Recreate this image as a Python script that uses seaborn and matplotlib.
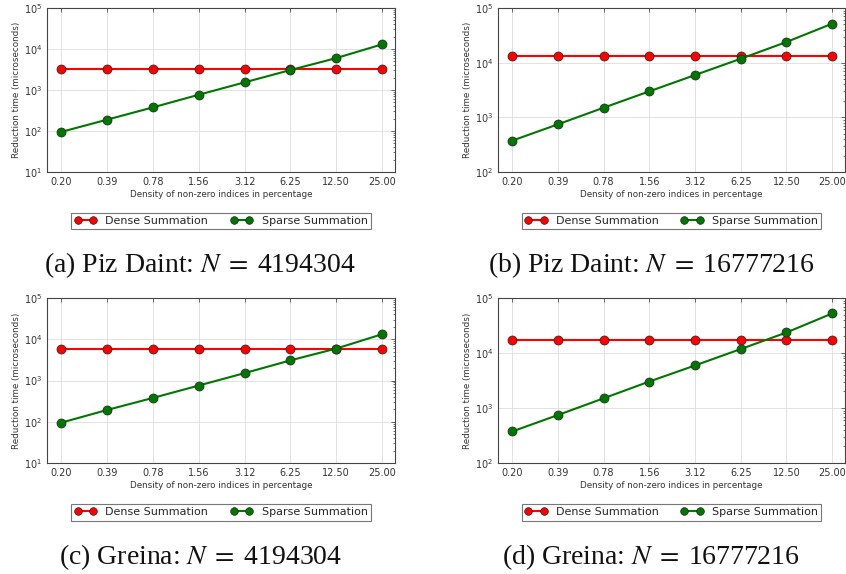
import numpy as np
import pandas as pd
import matplotlib
matplotlib.use("Agg")
import matplotlib.pyplot as plt
import seaborn as sns
from matplotlib.ticker import LogLocator, NullFormatter

# x categories (density of non-zero indices, %)
density_labels = ["0.20", "0.39", "0.78", "1.56", "3.12", "6.25", "12.50", "25.00"]

# (a) Piz Daint, N = 4194304
dense_a = [3300, 3300, 3300, 3300, 3300, 3300, 3300, 3300]
sparse_a = [95, 189, 377, 766, 1537, 3070, 6010, 13000]
# (b) Piz Daint, N = 16777216
dense_b = [13400, 13400, 13400, 13400, 13400, 13400, 13400, 13400]
sparse_b = [374, 745, 1500, 2990, 5940, 11800, 23900, 51700]
# (c) Greina, N = 4194304
dense_c = [5850, 5850, 5850, 5850, 5850, 5850, 5850, 5850]
sparse_c = [95, 193, 378, 755, 1510, 3080, 5950, 13250]
# (d) Greina, N = 16777216
dense_d = [17500, 17500, 17500, 17500, 17500, 17500, 17500, 17500]
sparse_d = [374, 745, 1500, 3030, 5940, 11800, 23600, 52400]

captions = [
    r"(a) Piz Daint: $N\;=\;$4194304",
    r"(b) Piz Daint: $N\;=\;$16777216",
    r"(c) Greina: $N\;=\;$4194304",
    r"(d) Greina: $N\;=\;$16777216",
]
ylims = [(10, 1e5), (100, 1e5), (10, 1e5), (100, 1e5)]

sns.set_style("white")
plt.rcParams["font.family"] = ["DejaVu Sans"]
plt.rcParams["mathtext.fontset"] = "stix"

fig = plt.figure(figsize=(8.46, 5.74), dpi=100)

W, H = 846, 574
boxes = [(47, 8, 395, 172), (498, 8, 845, 172),
         (47, 298, 395, 463), (498, 298, 845, 463)]
panels = [(dense_a, sparse_a), (dense_b, sparse_b),
          (dense_c, sparse_c), (dense_d, sparse_d)]
palette = {"Dense Summation": "#ff0000", "Sparse Summation": "#007700"}

for (x0, y0, x1, y1), (dense, sparse), cap, ylim in zip(boxes, panels, captions, ylims):
    ax = fig.add_axes([x0 / W, 1 - y1 / H, (x1 - x0) / W, (y1 - y0) / H])
    idx = np.arange(len(density_labels))
    df = pd.DataFrame({
        "pos": np.concatenate([idx, idx]),
        "time": dense + sparse,
        "method": ["Dense Summation"] * len(idx) + ["Sparse Summation"] * len(idx),
    })
    sns.lineplot(data=df, x="pos", y="time", hue="method", palette=palette,
                 marker="o", markersize=6.5, markeredgewidth=0.5,
                 markeredgecolor="#222222", linewidth=1.5, ax=ax, legend=False)
    ax.set_yscale("log")
    ax.set_ylim(*ylim)
    ax.set_xlim(-0.31, 7.28)
    ax.set_xticks(idx)
    ax.set_xticklabels(density_labels)
    ax.yaxis.set_minor_locator(LogLocator(base=10, subs=np.arange(2, 10)))
    ax.yaxis.set_minor_formatter(NullFormatter())
    ax.grid(True, which="major", color="#dddddd", linewidth=0.6)
    ax.tick_params(which="both", direction="in", top=True, right=True,
                   labelsize=7, colors="#333333", length=3, width=0.5)
    ax.tick_params(which="minor", length=1.5)
    for s in ax.spines.values():
        s.set_color("#444444")
        s.set_linewidth(0.8)
    ax.set_xlabel("Density of non-zero indices in percentage", fontsize=6.3,
                  color="#333333", labelpad=2)
    ax.set_ylabel("Reduction time (microseconds)", fontsize=6.3,
                  color="#333333", labelpad=2)

    # legend below the axes
    handles = [plt.Line2D([], [], color=c, marker="o", markersize=5.5,
                          markeredgecolor="#222222", markeredgewidth=0.5,
                          linewidth=1.5) for c in palette.values()]
    leg = ax.legend(handles, list(palette.keys()), loc="upper center",
                    bbox_to_anchor=(0.5, -0.215), ncol=2, fontsize=8,
                    numpoints=2, handlelength=2.0, columnspacing=2.0,
                    frameon=True, fancybox=False, borderpad=0.3)
    leg.get_frame().set_edgecolor("#555555")
    leg.get_frame().set_linewidth(0.8)

    # sub-caption
    ax.text(0.44, -0.57, cap, transform=ax.transAxes, ha="center", va="center",
            fontsize=20, family="Liberation Serif", color="#111111")

fig.savefig("out.png", dpi=100, facecolor="white")
